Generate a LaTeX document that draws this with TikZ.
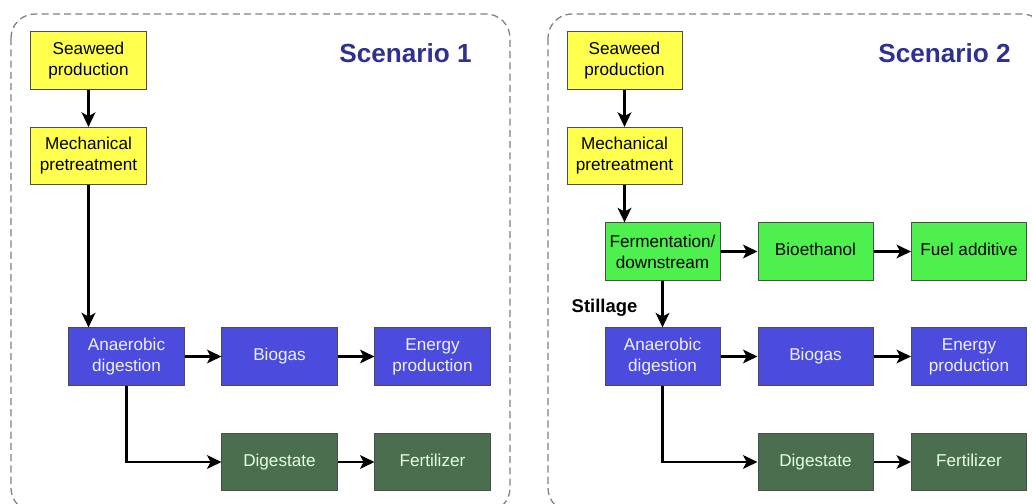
\documentclass[tikz,border=0pt]{standalone}
\usepackage{fontspec}
\setmainfont{Liberation Sans}
\usetikzlibrary{arrows.meta}

\definecolor{seaweedyellow}{HTML}{FFFF4D}
\definecolor{ethanolgreen}{HTML}{4DF04D}
\definecolor{biogasblue}{HTML}{4B4BDE}
\definecolor{digestgreen}{HTML}{4A6E4E}
\definecolor{titleblue}{HTML}{2E3192}

\begin{document}
\begin{tikzpicture}[x=0.025cm, y=-0.025cm,
    box/.style={draw=black!70, line width=0.7pt, minimum width=2.875cm, minimum height=1.43cm,
                align=center, font=\fontsize{12.2}{14.9}\selectfont, inner sep=1pt},
    oneline/.style={text height=9pt, text depth=3pt},
    yellowbox/.style={box, fill=seaweedyellow},
    greenbox/.style={box, fill=ethanolgreen},
    bluebox/.style={box, fill=biogasblue, text=white!94!blue},
    darkbox/.style={box, fill=digestgreen, text=white!90!green},
    flow/.style={-{Stealth[length=0.36cm, width=0.34cm, inset=0.09cm]}, line width=1.9pt},
    frame/.style={draw=black!50, line width=0.9pt, dash pattern=on 5pt off 3pt, rounded corners=0.6cm},
    title/.style={text=titleblue, font=\fontsize{18.6}{22}\selectfont\bfseries}]
    \useasboundingbox (0,0) rectangle (1032,504);

    % Dashed frames around both scenarios
    \draw[frame] (11,14) rectangle (510,512);
    \draw[frame] (548,14) rectangle (1046,512);

    % Scenario 1 nodes
    \node[title] (Title1) at (405.5,53) {Scenario 1};
    \node[yellowbox] (Seaweed1) at (88.5,60.5) {Seaweed\\production};
    \node[yellowbox] (Mech1) at (88.5,156) {Mechanical\\pretreatment};
    \node[bluebox] (Anaerobic1) at (126.5,356.5) {Anaerobic\\digestion};
    \node[bluebox, oneline] (Biogas1) at (279.5,356.5) {Biogas};
    \node[bluebox] (Energy1) at (432.5,356.5) {Energy\\production};
    \node[darkbox, oneline] (Digestate1) at (279.5,462) {Digestate};
    \node[darkbox, oneline] (Fertilizer1) at (432.5,462) {Fertilizer};

    % Scenario 2 nodes
    \node[title] (Title2) at (944.5,53) {Scenario 2};
    \node[yellowbox] (Seaweed2) at (624.5,60.5) {Seaweed\\production};
    \node[yellowbox] (Mech2) at (624.5,156) {Mechanical\\pretreatment};
    \node[greenbox] (Ferment2) at (662.5,251.5) {Fermentation/\\downstream};
    \node[greenbox, oneline] (Bioethanol2) at (815.5,251.5) {Bioethanol};
    \node[greenbox, oneline] (Fuel2) at (969,251.5) {Fuel additive};
    \node[bluebox] (Anaerobic2) at (662.5,356.5) {Anaerobic\\digestion};
    \node[bluebox, oneline] (Biogas2) at (815.5,356.5) {Biogas};
    \node[bluebox] (Energy2) at (969,356.5) {Energy\\production};
    \node[darkbox, oneline] (Digestate2) at (815.5,462) {Digestate};
    \node[darkbox, oneline] (Fertilizer2) at (969,462) {Fertilizer};
    \node[font=\fontsize{13.1}{15}\selectfont\bfseries] (Stillage) at (604.5,308) {Stillage};

    % Scenario 1 arrows
    \draw[flow] (Seaweed1) -- (Mech1);
    \draw[flow] (Mech1.south) -- (Mech1.south |- Anaerobic1.north);
    \draw[flow] (Anaerobic1) -- (Biogas1);
    \draw[flow] (Biogas1) -- (Energy1);
    \draw[flow] (Anaerobic1.south) |- (Digestate1.west);
    \draw[flow] (Digestate1) -- (Fertilizer1);

    % Scenario 2 arrows
    \draw[flow] (Seaweed2) -- (Mech2);
    \draw[flow] (Mech2.south) -- (Mech2.south |- Ferment2.north);
    \draw[flow] (Ferment2) -- (Bioethanol2);
    \draw[flow] (Bioethanol2) -- (Fuel2);
    \draw[flow] (Ferment2) -- (Anaerobic2);
    \draw[flow] (Anaerobic2) -- (Biogas2);
    \draw[flow] (Biogas2) -- (Energy2);
    \draw[flow] (Anaerobic2.south) |- (Digestate2.west);
    \draw[flow] (Digestate2) -- (Fertilizer2);
\end{tikzpicture}
\end{document}
